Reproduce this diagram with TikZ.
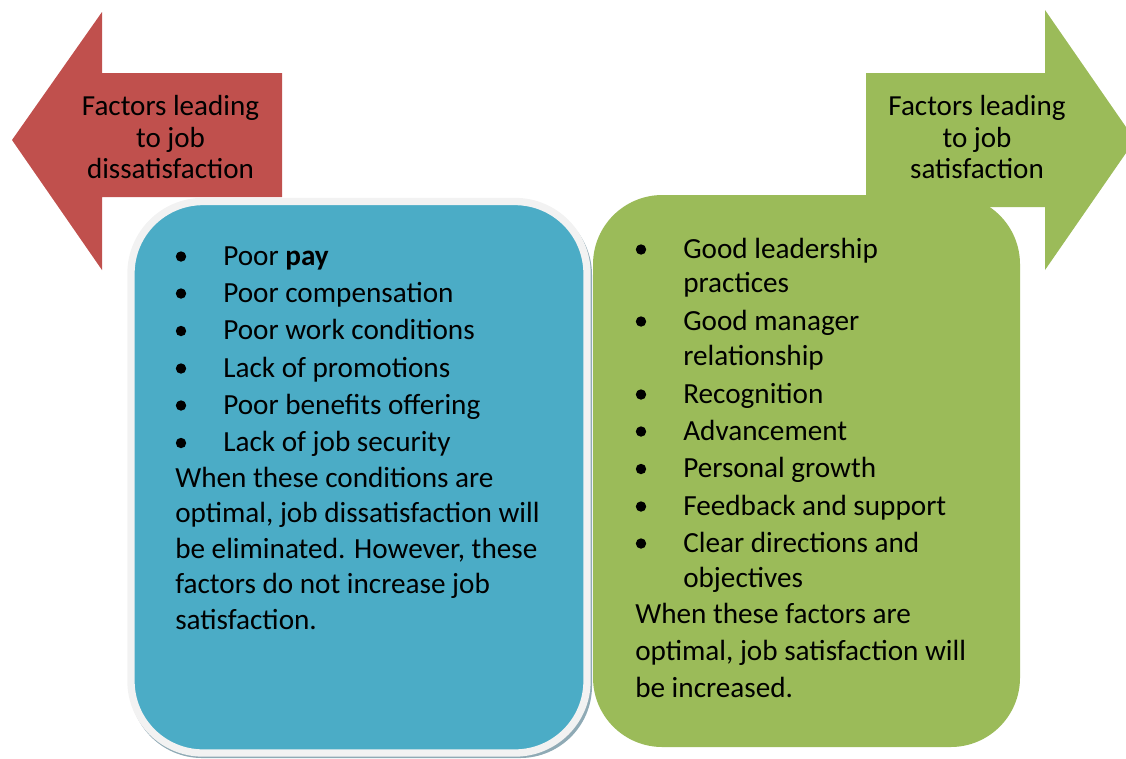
\documentclass[tikz,border=0pt]{standalone}
\usepackage{fontspec}
\setmainfont{Carlito}
\definecolor{redA}{HTML}{C0504D}
\definecolor{greenA}{HTML}{9BBB59}
\definecolor{blueA}{HTML}{4BACC6}
\definecolor{rimA}{HTML}{F2F2F2}
\definecolor{shadeA}{HTML}{8FAAB5}
\tikzset{
  txt/.style={anchor=base west, inner sep=0pt, font=\fontsize{21.9}{26}\selectfont},
  atxt/.style={anchor=base, inner sep=0pt, font=\fontsize{21.8}{26}\selectfont},
  bul/.style={circle, fill=black, inner sep=0pt, minimum size=7.8pt},
}
\begin{document}
\begin{tikzpicture}[x=0.75pt,y=-0.75pt]
\useasboundingbox (0,0) rectangle (1126,758);
\clip (0,0) rectangle (1126,758);
% arrows
\fill[redA] (12,140) -- (102,12) -- (102,73) -- (282,73) -- (282,197) -- (102,197) -- (102,270) -- cycle;
\fill[greenA] (1135,140) -- (1045,10) -- (1045,73) -- (866,73) -- (866,207) -- (1045,207) -- (1045,270) -- cycle;
% green box
\fill[greenA, rounded corners=52pt] (593,195) rectangle (1020,747);
% blue box with shadow
\fill[shadeA, rounded corners=54pt] (130,203) rectangle (592,758);
\draw[rimA, line width=5.5pt, fill=blueA, rounded corners=54pt] (131,201.5) rectangle (587,753);
% arrow texts
\node[atxt] (r1) at (170.5,115) {Factors leading};
\node[atxt] (r2) at (170.5,147.5) {to job};
\node[atxt] (r3) at (170.5,178.5) {dissatisfaction};
\node[atxt] (g1) at (977,115) {Factors leading};
\node[atxt] (g2) at (977,147.5) {to job};
\node[atxt] (g3) at (977,178.5) {satisfaction};
% left list
\foreach \n/\y/\t in {a/265/{Poor \textbf{pay}}, b/302/Poor compensation, c/339.5/Poor work conditions, d/377/Lack of promotions, e/414/Poor benefits offering, f/451.5/Lack of job security}{
  \node[bul] (lb\n) at (181,\y-8.5) {};
  \node[txt] (lt\n) at (223,\y) {\t};
}
\node[txt] (lp1) at (175,487) {When these conditions are};
\node[txt] (lp2) at (175,522.5) {optimal, job dissatisfaction will};
\node[txt] (lp3) at (175,558) {be eliminated. However, these};
\node[txt] (lp4) at (175,593.5) {factors do not increase job};
\node[txt] (lp5) at (175,629.5) {satisfaction.};
% right list
\foreach \n/\y in {a/258, b/330, c/403, d/440, e/477.5, f/515, g/552}{
  \node[bul] (rb\n) at (641,\y-8.5) {};
}
\node[txt] (rt1) at (683,258) {Good leadership};
\node[txt] (rt2) at (683,292.5) {practices};
\node[txt] (rt3) at (683,330) {Good manager};
\node[txt] (rt4) at (683,365) {relationship};
\node[txt] (rt5) at (683,403) {Recognition};
\node[txt] (rt6) at (683,440) {Advancement};
\node[txt] (rt7) at (683,477.5) {Personal growth};
\node[txt] (rt8) at (683,515) {Feedback and support};
\node[txt] (rt9) at (683,552) {Clear directions and};
\node[txt] (rt10) at (683,587) {objectives};
\node[txt] (rp1) at (635,623) {When these factors are};
\node[txt] (rp2) at (635,660) {optimal, job satisfaction will};
\node[txt] (rp3) at (635,697) {be increased.};
\end{tikzpicture}
\end{document}
